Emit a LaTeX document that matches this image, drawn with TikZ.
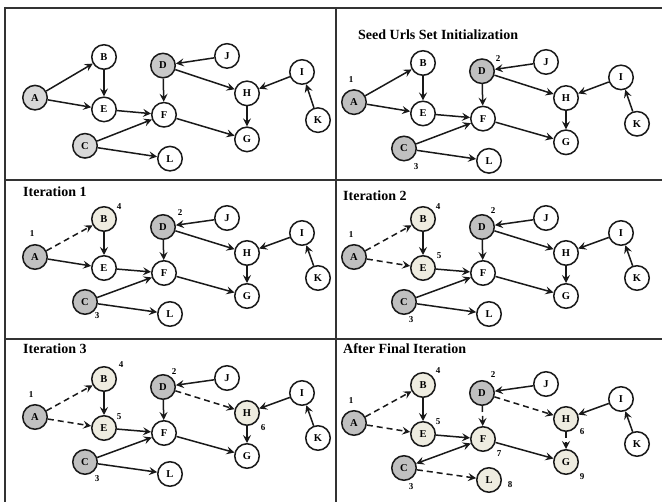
\documentclass[tikz,border=0pt]{standalone}
\usepackage{fontspec}
\setmainfont{Liberation Serif}
\usetikzlibrary{arrows.meta}

\definecolor{beige}{RGB}{238,236,224}
\definecolor{seedgray}{RGB}{192,192,192}
\definecolor{palegray}{RGB}{216,216,216}
\definecolor{midgray}{RGB}{200,200,200}

\tikzset{
  vertex/.style={circle, draw=black!90, line width=1.5pt, fill=white,
    minimum size=24.5pt, inner sep=0pt, font=\fontsize{10.5}{10.5}\selectfont\bfseries},
  seed/.style={fill=seedgray},
  visited/.style={fill=beige},
  tone A/.style={}, tone B/.style={}, tone C/.style={}, tone D/.style={},
  tone E/.style={}, tone F/.style={}, tone G/.style={}, tone H/.style={},
  tone I/.style={}, tone J/.style={}, tone K/.style={}, tone L/.style={},
  tip/.style={Stealth[length=8pt,width=8pt,inset=3pt]},
  link/.style={line width=1.5pt, draw=black!90, -{Stealth[length=8pt,width=8pt,inset=3pt]}},
  crawl/.style={link, dash pattern=on 6pt off 4pt},
  both/.style={line width=1.5pt, draw=black!90,
    {Stealth[length=8pt,width=8pt,inset=3pt]}-{Stealth[length=8pt,width=8pt,inset=3pt]}},
  rank/.style={font=\fontsize{9}{9}\selectfont\bfseries, inner sep=0pt},
  caption/.style={anchor=west, inner sep=0pt, font=\fontsize{14}{14}\selectfont\bfseries},
  frame/.style={line width=2pt, draw=black!80},
}

% the twelve pages of the web graph, placed relative to page B
\newcommand\webgraph[1]{%
  \foreach \n/\x/\y in {A/-69/38, B/0/0, C/-19/83, D/59/8, E/0/49, F/60/54,
      G/143/77, H/143/34, I/198/14, J/123/-1, K/214/59, L/66/95}
    \node[vertex, tone \n] (#1\n) at (\x,\y) {\n};
}
% hyperlinks between pages of one graph
\newcommand\links[3]{\foreach \s/\t in {#3} \draw[#2] (#1\s) -- (#1\t);}
% crawl order number beside a page
\newcommand\rank[4]{\node[rank] (#1r#2) at ([shift={(#3)}]#1#4) {#2};}

\begin{document}
\begin{tikzpicture}[x=1pt,y=-1pt]
\useasboundingbox (0,0) rectangle (662,502);
\fill[white] (0,0) rectangle (662,502);

% panel grid
\draw[frame] (5,8) -- (666,8);
\draw[frame] (5,7) -- (5,506);
\draw[frame] (336,8) -- (336,506);
\draw[frame] (5,180) -- (666,180);
\draw[frame] (5,339) -- (666,339);

% ---- original graph
\begin{scope}[shift={(104,57)}, yscale=1.07,
    tone A/.style={fill=palegray}, tone C/.style={fill=palegray}, tone D/.style={fill=midgray}]
  \webgraph{p1}
\end{scope}
\links{p1}{link}{A/B, A/E, B/E, E/F, D/F, D/H, J/D, I/H, K/I, H/G, F/G, C/F, C/L}

% ---- seed set
\node[caption] (t2) at (358,35) {Seed Urls Set Initialization};
\begin{scope}[shift={(423,63)}, yscale=1.03,
    tone A/.style={seed}, tone C/.style={seed}, tone D/.style={seed}]
  \webgraph{p2}
\end{scope}
\links{p2}{link}{A/B, A/E, B/E, E/F, D/F, D/H, J/D, I/H, K/I, H/G, F/G, C/F, C/L}
\rank{p2}{1}{-3,-23}{A}
\rank{p2}{2}{16,-13}{D}
\rank{p2}{3}{12,18}{C}

% ---- iteration 1
\node[caption] (t3) at (23,192) {Iteration 1};
\begin{scope}[shift={(104,219)},
    tone A/.style={seed}, tone C/.style={seed}, tone D/.style={seed},
    tone B/.style={visited}]
  \webgraph{p3}
\end{scope}
\links{p3}{crawl}{A/B}
\links{p3}{link}{A/E, B/E, E/F, D/F, D/H, J/D, I/H, K/I, H/G, F/G, C/F, C/L}
\rank{p3}{1}{-3,-23}{A}
\rank{p3}{4}{15,-12}{B}
\rank{p3}{2}{17,-14}{D}
\rank{p3}{3}{12,14}{C}

% ---- iteration 2
\node[caption] (t4) at (343,196) {Iteration 2};
\begin{scope}[shift={(423,219)},
    tone A/.style={seed}, tone C/.style={seed}, tone D/.style={seed},
    tone B/.style={visited}, tone E/.style={visited}]
  \webgraph{p4}
\end{scope}
\links{p4}{crawl}{A/B, A/E}
\links{p4}{link}{B/E, E/F, D/F, D/H, J/D, I/H, K/I, H/G, F/G, C/F, C/L}
\rank{p4}{1}{-3,-22}{A}
\rank{p4}{4}{15,-12}{B}
\rank{p4}{2}{11,-16}{D}
\rank{p4}{5}{16,-12}{E}
\rank{p4}{3}{7,18}{C}

% ---- iteration 3
\node[caption] (t5) at (23,349) {Iteration 3};
\begin{scope}[shift={(104,379)},
    tone A/.style={seed}, tone C/.style={seed}, tone D/.style={seed},
    tone B/.style={visited}, tone E/.style={visited}, tone H/.style={visited}]
  \webgraph{p5}
\end{scope}
\links{p5}{crawl}{A/B, A/E, D/H}
\links{p5}{link}{B/E, E/F, D/F, J/D, I/H, K/I, H/G, F/G, C/F, C/L}
\rank{p5}{1}{-4,-22}{A}
\rank{p5}{4}{17,-14}{B}
\rank{p5}{2}{11,-15}{D}
\rank{p5}{5}{15,-11}{E}
\rank{p5}{6}{16,15}{H}
\rank{p5}{3}{12,17}{C}

% ---- final state
\node[caption] (t6) at (343,349) {After Final Iteration};
\begin{scope}[shift={(423,385)},
    tone A/.style={seed}, tone C/.style={seed}, tone D/.style={seed},
    tone B/.style={visited}, tone E/.style={visited}, tone H/.style={visited},
    tone F/.style={visited}, tone G/.style={visited}, tone L/.style={visited}]
  \webgraph{p6}
\end{scope}
\links{p6}{crawl}{A/B, A/E, D/H, D/F, H/G, C/L}
\links{p6}{link}{B/E, E/F, J/D, I/H, K/I, F/G}
\links{p6}{both}{C/F}
\rank{p6}{1}{-3,-22}{A}
\rank{p6}{4}{15,-14}{B}
\rank{p6}{2}{11,-18}{D}
\rank{p6}{5}{15,-12}{E}
\rank{p6}{6}{16,13}{H}
\rank{p6}{7}{16,15}{F}
\rank{p6}{9}{16,15}{G}
\rank{p6}{8}{21,5}{L}
\rank{p6}{3}{7,19}{C}
\end{tikzpicture}
\end{document}
